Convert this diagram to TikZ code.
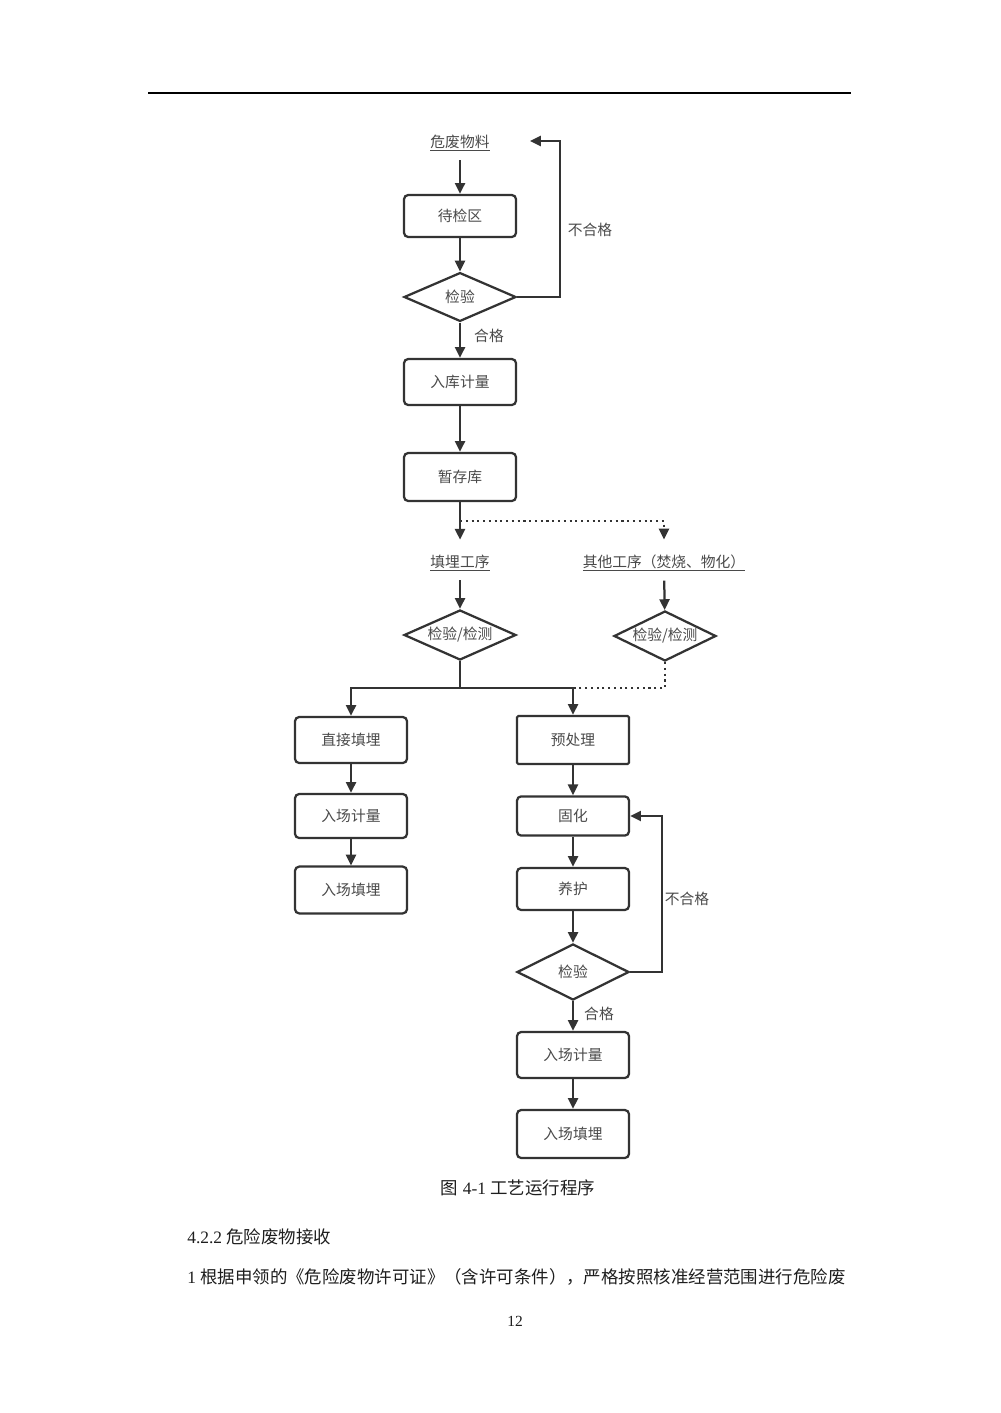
\documentclass[tikz,border=0pt]{standalone}
\usepackage{fontspec}
\setmainfont{Liberation Serif}
\newfontfamily\cjk{Noto Sans CJK SC}
\usetikzlibrary{arrows.meta, positioning, shapes.geometric}
\definecolor{lineDark}{HTML}{333333}
\definecolor{textGray}{HTML}{4A4A4A}
\definecolor{pageText}{HTML}{1E1E1E}

\begin{document}
\begin{tikzpicture}[
  x=0.025cm, y=-0.025cm,
  >={Triangle[length=0.27cm, width=0.25cm]},
  font=\cjk\fontsize{10.5}{12}\selectfont,
  stepbox/.style={draw=lineDark, line width=1.6pt, rounded corners=3pt, align=center,
               minimum width=2.8cm, minimum height=1.15cm, text=textGray, fill=white},
  check/.style={draw=lineDark, line width=1.6pt, diamond, aspect=2.2, inner sep=0pt,
               minimum width=2.8cm, minimum height=1.25cm, text=textGray, fill=white},
  stage/.style={inner sep=0.22cm, text=textGray},
  note/.style={text=textGray},
  flow/.style={->, line width=1.6pt, draw=lineDark},
  flowdot/.style={line width=1.6pt, draw=lineDark, dash pattern=on 1.5pt off 2.6pt},
  body/.style={font=\fontsize{12.4}{14}\selectfont, text=pageText}
]
\fill[white] (0,0) rectangle (1000,1413);
\useasboundingbox (0,0) rectangle (1000,1413);

% page rule
\draw[line width=1.3pt, black] (148,93) -- (851,93);

% receiving
\node[stage] (src) at (460,143) {\underline{危废物料}};
\node[stepbox, minimum height=1.05cm] (wait) at (460,216) {待检区};
\node[check, minimum height=1.22cm] (chk1) at (460,297) {检验};
\node[stepbox] (weigh) at (460,382) {入库计量};
\node[stepbox, minimum height=1.2cm] (store) at (460,477) {暂存库};

\draw[flow] (src) -- (wait);
\draw[flow] (wait) -- (chk1);
\draw[flow] (chk1) -- (weigh);
\draw[flow] (weigh) -- (store);

\coordinate (back1) at (530,141);
\coordinate (loop1) at (560,141);
\draw[flow] (chk1.east) -| (loop1) -- (back1);
\node[note] at (590,230) {不合格};
\node[note] at (489,336) {合格};

% branches
\node[stage] (fill) at (460,563) {\underline{填埋工序}};
\node[stage] (other) at (664,563) {\underline{其他工序（焚烧、物化）}};
\node[check] (chk2) at (460,635) {检验/检测};
\node[check, minimum width=2.55cm] (chk3) at (665,636) {检验/检测};

\coordinate (split) at (460,521);
\draw[flow, shorten >=0.15cm] (store) -- (fill);
\draw[flowdot] (split) -| ([yshift=0.3cm]other.north);
\draw[flow] ([yshift=0.3cm]other.north) -- ([yshift=0.15cm]other.north);
\draw[flow] (fill) -- (chk2);
\draw[flow] (other) -- (chk3);

\node[stepbox] (direct) at (351,740) {直接填埋};
\node[stepbox, minimum height=1.1cm] (weighA) at (351,816) {入场计量};
\node[stepbox, minimum height=1.17cm] (buryA) at (351,890) {入场填埋};

\node[stepbox, rounded corners=1pt, minimum height=1.2cm] (pre) at (573,740) {预处理};
\node[stepbox, minimum height=0.98cm] (cure) at (573,816) {固化};
\node[stepbox, minimum height=1.05cm] (keep) at (573,889) {养护};
\node[check, minimum height=1.4cm] (chk4) at (573,972) {检验};
\node[stepbox] (weighB) at (573,1055) {入场计量};
\node[stepbox, minimum height=1.2cm] (buryB) at (573,1134) {入场填埋};

\coordinate (join) at (460,688);
\coordinate (joinR) at (574,688);
\draw[line width=1.6pt, draw=lineDark] (chk2) -- (join);
\draw[flow] (join) -| (direct);
\draw[flow] (join) -| (pre);
\draw[flowdot] (chk3.south) |- (joinR);

\draw[flow] (direct) -- (weighA);
\draw[flow] (weighA) -- (buryA);

\draw[flow] (pre) -- (cure);
\draw[flow] (cure) -- (keep);
\draw[flow] (keep) -- (chk4);
\draw[flow] (chk4) -- (weighB);
\draw[flow] (weighB) -- (buryB);

\coordinate (loop2) at (662,816);
\draw[flow] (chk4.east) -| (loop2) -- (cure);
\node[note] at (687,899) {不合格};
\node[note] at (599,1014) {合格};

% page text
\node[body] (caption) at (518,1188) {{\cjk 图} 4-1 {\cjk 工艺运行程序}};
\node[body, anchor=west, inner sep=0pt] (sect) at (187,1237) {4.2.2 {\cjk 危险废物接收}};
\node[body, anchor=west, inner sep=0pt] (para) at (187,1277)
  {1 {\cjk 根据申领的《危险废物许可证》（含许可条件），严格按照核准经营范围进行危险废}};
\node[body, font=\fontsize{11}{13}\selectfont] (pageno) at (515,1321) {12};
\end{tikzpicture}
\end{document}
